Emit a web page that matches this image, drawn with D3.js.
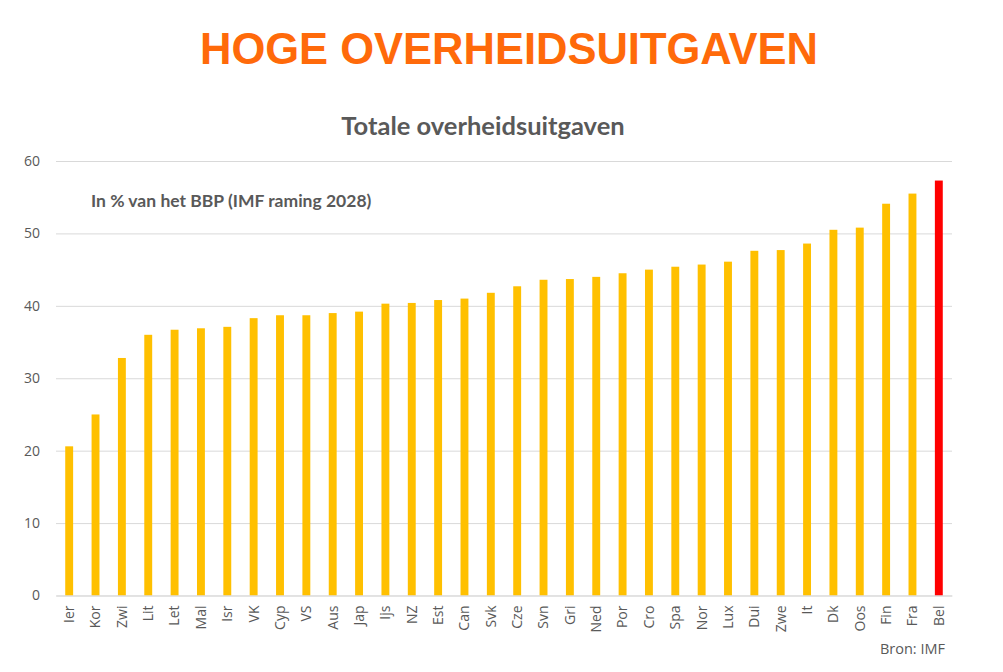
<!DOCTYPE html>
<html>
<head>
<meta charset="utf-8">
<script src="https://cdn.jsdelivr.net/npm/d3@7"></script>
<style>
  body { margin: 0; background: #fff; }
  .grid line { stroke: #d9d9d9; }
  .grid .domain { display: none; }
  .tick text { fill: #595959; font-family: "Open Sans", sans-serif; font-size: 14px; }
</style>
</head>
<body>
<div id="chart"></div>
<script>
var landen = ["Ier", "Kor", "Zwi", "Lit", "Let", "Mal", "Isr", "VK", "Cyp", "VS", "Aus", "Jap",
  "Ijs", "NZ", "Est", "Can", "Svk", "Cze", "Svn", "Gri", "Ned", "Por", "Cro", "Spa", "Nor",
  "Lux", "Dui", "Zwe", "It", "Dk", "Oos", "Fin", "Fra", "Bel"];
var uitgaven = [20.6, 25.0, 32.8, 36.0, 36.7, 36.9, 37.1, 38.3, 38.7, 38.7, 39.0, 39.2,
  40.3, 40.4, 40.8, 41.0, 41.8, 42.7, 43.6, 43.7, 44.0, 44.5, 45.0, 45.4, 45.7,
  46.1, 47.6, 47.7, 48.6, 50.5, 50.8, 54.1, 55.5, 57.3];
var yTicks = [0, 10, 20, 30, 40, 50, 60];

var W = 1003, H = 672;
var margin = {top: 161, right: 51, bottom: 76.5, left: 56};
var width = W - margin.left - margin.right,
    height = H - margin.top - margin.bottom;

var data = landen.map(function(d, i) { return {land: d, waarde: uitgaven[i]}; });

var svg = d3.select("#chart").append("svg")
    .attr("width", W)
    .attr("height", H);

svg.append("text")
    .attr("x", 509).attr("y", 64)
    .attr("text-anchor", "middle")
    .attr("fill", "#ff6a0a")
    .attr("font-family", "'Liberation Sans', Arial, sans-serif")
    .attr("font-weight", "bold")
    .attr("font-size", 43.5)
    .text("HOGE OVERHEIDSUITGAVEN");

svg.append("text")
    .attr("x", 483).attr("y", 135)
    .attr("text-anchor", "middle")
    .attr("fill", "#595959")
    .attr("font-family", "Lato, sans-serif")
    .attr("font-weight", "bold")
    .attr("font-size", 25.5)
    .text("Totale overheidsuitgaven");

var g = svg.append("g")
    .attr("transform", "translate(" + margin.left + "," + margin.top + ")");

var x = d3.scaleBand()
    .domain(landen)
    .range([0, width])
    .paddingInner(0.7)
    .paddingOuter(0.35);

var y = d3.scaleLinear()
    .domain([0, 60])
    .range([height, 0]);

// gridlines + y labels
var yAxis = g.append("g")
    .attr("class", "grid")
    .call(d3.axisLeft(y).tickValues(yTicks).tickSize(-width).tickPadding(16));
yAxis.selectAll(".tick line").attr("x1", 0);

g.append("text")
    .attr("x", 35).attr("y", 46)
    .attr("fill", "#595959")
    .attr("font-family", "Lato, sans-serif")
    .attr("font-weight", "bold")
    .attr("font-size", 17.5)
    .text("In % van het BBP (IMF raming 2028)");

g.selectAll(".bar")
    .data(data)
  .enter().append("rect")
    .attr("class", "bar")
    .attr("x", function(d) { return x(d.land); })
    .attr("width", x.bandwidth())
    .attr("y", function(d) { return y(d.waarde); })
    .attr("height", function(d) { return height - y(d.waarde); })
    .attr("fill", function(d) { return d.land === "Bel" ? "#ff0000" : "#ffc000"; });

var xAxis = g.append("g")
    .attr("transform", "translate(0," + height + ")")
    .call(d3.axisBottom(x).tickSize(0).tickPadding(0));
xAxis.select(".domain").attr("stroke", "#d9d9d9");
xAxis.selectAll(".tick text")
    .attr("transform", "rotate(-90)")
    .attr("text-anchor", "end")
    .attr("x", -10)
    .attr("y", 0)
    .attr("dy", "0.35em");

svg.append("text")
    .attr("x", 945).attr("y", 654)
    .attr("text-anchor", "end")
    .attr("fill", "#595959")
    .attr("font-family", "'Open Sans', sans-serif")
    .attr("font-size", 14.5)
    .text("Bron: IMF");
</script>
</body>
</html>
